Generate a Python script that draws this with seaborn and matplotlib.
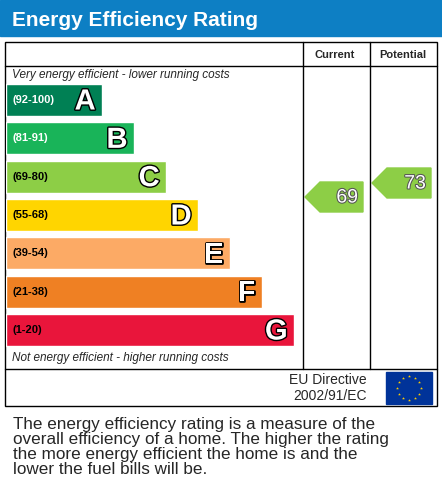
import numpy as np
import pandas as pd
import seaborn as sns
import matplotlib.pyplot as plt
import matplotlib.patheffects as pe
from matplotlib.patches import Rectangle, Polygon

bands = ["A", "B", "C", "D", "E", "F", "G"]
ranges = ["(92-100)", "(81-91)", "(69-80)", "(55-68)", "(39-54)", "(21-38)", "(1-20)"]
bar_len = [3, 4, 5, 6, 7, 8, 9]
colors = ["#008054", "#19b459", "#8dce46", "#ffd500", "#fcaa65", "#ef8023", "#e9153b"]
label_white = [True, True, False, False, False, False, False]
current = 69
potential = 73

sns.set_style("white")
plt.rcParams['font.family'] = ['Liberation Sans', 'DejaVu Sans']

W, H = 442, 486
fig = plt.figure(figsize=(W / 100, H / 100), dpi=100)
ax = fig.add_axes([0, 0, 1, 1])
ax.set_xlim(0, W)
ax.set_ylim(H, 0)
ax.axis("off")

# title bar
ax.add_patch(Rectangle((0, 0), W, 36, color="#0d7fc4"))
ax.text(12, 20, "Energy Efficiency Rating", color="white", fontsize=15,
        fontweight="bold", va="center")

# table frame
lw = 1.0
ax.add_patch(Rectangle((4.5, 42.5), 432, 363, fill=False, lw=lw, ec="black"))
ax.plot([4.5, 436.5], [66.5, 66.5], color="black", lw=lw)
ax.plot([4.5, 436.5], [368.5, 368.5], color="black", lw=lw)
for xv in (302.5, 369.5):
    ax.plot([xv, xv], [42.5, 368.5], color="black", lw=lw)
ax.text(335, 54.5, "Current", fontsize=8, fontweight="bold", ha="center", va="center")
ax.text(403, 54.5, "Potential", fontsize=8, fontweight="bold", ha="center", va="center")
ax.text(12, 75, "Very energy efficient - lower running costs", fontsize=8.5,
        style="italic", va="center")
ax.text(12, 358, "Not energy efficient - higher running costs", fontsize=8.5,
        style="italic", va="center")

# bars via seaborn
bax = fig.add_axes([6 / W, 1 - 349.2 / H, 296 / W, (349.2 - 80.8) / H])
df = pd.DataFrame({"band": bands, "len": bar_len})
sns.barplot(data=df, x="len", y="band", hue="band", palette=colors, orient="h",
            width=0.835, legend=False, ax=bax, saturation=1)
bax.set_xlim(0, 296 / 32)
bax.axis("off")
for i, (b, r, L) in enumerate(zip(bands, ranges, bar_len)):
    bax.text(0.2, i, r, fontsize=8, fontweight="bold", va="center",
             color="white" if label_white[i] else "black")
    t = bax.text(L - 0.2, i + 0.04, b, fontsize=21, fontweight="bold", va="center",
                 ha="right", color="white")
    t.set_path_effects([pe.Stroke(linewidth=2, foreground="black"), pe.Normal()])

# arrows
def arrow(x0, x1, rating):
    yc = 197 - (rating - 69) * 3.5
    h = 15
    pts = [(x0, yc), (x0 + h, yc - h), (x1, yc - h), (x1, yc + h), (x0 + h, yc + h)]
    ax.add_patch(Polygon(pts, closed=True, color="#8dce46"))
    t = ax.text(x1 - 5, yc + 1, str(rating), fontsize=14, color="white",
                ha="right", va="center")
    t.set_path_effects([pe.Stroke(linewidth=1.5, foreground="#555555"), pe.Normal()])

arrow(305, 363, current)
arrow(372, 431, potential)

# EU row
ax.text(367, 380, "EU Directive", fontsize=10, ha="right", va="center")
ax.text(367, 396, "2002/91/EC", fontsize=10, ha="right", va="center")
ax.add_patch(Rectangle((386, 372), 46, 32, color="#003399"))
ang = np.linspace(0, 2 * np.pi, 13)[:-1]
ax.scatter(409 + 12 * np.cos(ang), 388 + 12 * np.sin(ang), marker="*", s=5,
           color="#ffcc00", linewidths=0, zorder=5)

# description
desc = ("The energy efficiency rating is a measure of the\n"
        "overall efficiency of a home. The higher the rating\n"
        "the more energy efficient the home is and the\n"
        "lower the fuel bills will be.")
ax.text(13, 417, desc, fontsize=12.3, va="top", linespacing=1.0)

fig.savefig("out.png", dpi=100)
